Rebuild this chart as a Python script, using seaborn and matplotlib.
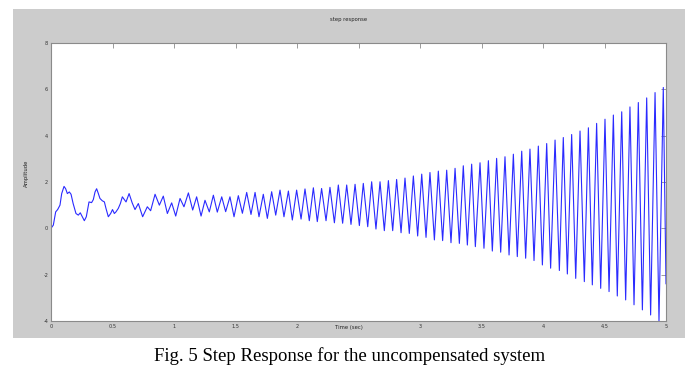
import matplotlib
matplotlib.use("Agg")
import matplotlib.pyplot as plt
from matplotlib.patches import Rectangle
import seaborn as sns
import pandas as pd

# ---- data ----
time_s = [
    0.0, 0.019, 0.038, 0.054, 0.073, 0.087, 0.106, 0.119, 0.133, 0.149, 0.163, 0.18,
    0.203, 0.222, 0.238, 0.255, 0.271, 0.287, 0.309, 0.33, 0.344, 0.358, 0.371, 0.385,
    0.398, 0.417, 0.434, 0.447, 0.466, 0.485, 0.5, 0.515, 0.528, 0.547, 0.564, 0.58,
    0.596, 0.61, 0.635, 0.66, 0.683,
    0.71, 0.745, 0.783, 0.81, 0.846, 0.881, 0.913, 0.946, 0.981, 1.014, 1.049, 1.081,
    1.117, 1.152, 1.184, 1.22, 1.252, 1.287, 1.32, 1.352, 1.388, 1.42, 1.455, 1.488,
    1.523, 1.556, 1.591, 1.626, 1.659, 1.691, 1.726, 1.759, 1.794, 1.827, 1.862, 1.894,
    1.93, 1.962, 1.997, 2.033, 2.065, 2.1, 2.133, 2.165, 2.2, 2.236, 2.268, 2.304,
    2.336, 2.371, 2.404, 2.439, 2.472, 2.507, 2.539, 2.575, 2.607, 2.642, 2.675, 2.71,
    2.743, 2.778, 2.81, 2.846, 2.878, 2.913, 2.946, 2.981, 3.014, 3.049, 3.081, 3.117,
    3.149, 3.184, 3.217, 3.252, 3.285, 3.32, 3.352, 3.385, 3.42, 3.45, 3.488, 3.52,
    3.556, 3.588, 3.623, 3.656, 3.691, 3.724, 3.759, 3.791, 3.827, 3.859, 3.894, 3.927,
    3.962, 3.995, 4.03, 4.062, 4.098, 4.133, 4.165, 4.198, 4.233, 4.266, 4.301, 4.336,
    4.369, 4.401, 4.436, 4.469, 4.504, 4.537, 4.572, 4.604, 4.64, 4.672, 4.707, 4.74,
    4.775, 4.808, 4.843, 4.875, 4.911, 4.943, 4.978, 5.0,
]
amplitude = [
    0.0, 0.14, 0.71, 0.81, 1.0, 1.5, 1.81, 1.71, 1.5, 1.57, 1.47, 1.07,
    0.64, 0.57, 0.67, 0.5, 0.33, 0.5, 1.14, 1.11, 1.24, 1.57, 1.71, 1.5,
    1.29, 1.19, 1.14, 0.86, 0.5, 0.64, 0.81, 0.64, 0.71, 0.86, 1.07, 1.36,
    1.24, 1.14, 1.5, 1.1, 0.81,
    1.07, 0.5, 0.93, 0.76, 1.47, 1.0, 1.39, 0.64, 1.1, 0.53, 1.29, 0.93,
    1.53, 0.79, 1.36, 0.53, 1.21, 0.71, 1.43, 0.7, 1.36, 0.72, 1.36, 0.5,
    1.41, 0.65, 1.55, 0.6, 1.55, 0.5, 1.47, 0.43, 1.58, 0.57, 1.65, 0.5,
    1.61, 0.36, 1.65, 0.4, 1.7, 0.33, 1.75, 0.29, 1.72, 0.33, 1.77, 0.24,
    1.87, 0.22, 1.87, 0.17, 1.9, 0.12, 1.94, 0.07, 2.01, -0.03, 2.01, -0.1,
    2.06, -0.1, 2.11, -0.19, 2.17, -0.22, 2.26, -0.33, 2.34, -0.39, 2.41, -0.5,
    2.47, -0.53, 2.51, -0.62, 2.59, -0.65, 2.7, -0.72, 2.77, -0.79, 2.83, -0.86,
    2.92, -0.98, 3.02, -1.03, 3.09, -1.15, 3.2, -1.22, 3.33, -1.29, 3.42, -1.39,
    3.55, -1.58, 3.66, -1.72, 3.81, -1.82, 3.92, -1.97, 4.05, -2.16, 4.2, -2.3,
    4.34, -2.44, 4.53, -2.59, 4.71, -2.73, 4.89, -2.92, 5.03, -3.09, 5.24, -3.3,
    5.43, -3.52, 5.63, -3.74, 5.86, -4.02, 6.08, -2.4,
]
x_ticks = [0, 0.5, 1, 1.5, 2, 2.5, 3, 3.5, 4, 4.5, 5]
# the 2.5 label is hidden behind the axis title in the reference
x_tick_labels = ["0", "0.5", "1", "1.5", "2", "", "3", "3.5", "4", "4.5", "5"]
y_ticks = [-4, -2, 0, 2, 4, 6, 8]
y_tick_labels = ["-4", "-2", "0", "2", "4", "6", "8"]

df = pd.DataFrame({"Time (sec)": time_s, "Amplitude": amplitude})

sns.set_theme(style="white")
plt.rcParams["font.family"] = ["DejaVu Sans"]

W, H = 698, 380
fig = plt.figure(figsize=(W / 100, H / 100), dpi=100)
fig.patch.set_facecolor("white")

# grey MATLAB figure panel (behind the axes)
panel = Rectangle((13 / W, 1 - 338 / H), (685 - 13) / W, (338 - 9) / H,
                  transform=fig.transFigure, facecolor="#cccccc",
                  edgecolor="none", zorder=-10)
fig.add_artist(panel)

ax_l, ax_r, ax_t, ax_b = 51, 666, 43, 321
ax = fig.add_axes([ax_l / W, 1 - ax_b / H, (ax_r - ax_l) / W, (ax_b - ax_t) / H])
ax.set_zorder(5)
ax.set_facecolor("white")

sns.lineplot(data=df, x="Time (sec)", y="Amplitude", sort=False, estimator=None,
             color="#2a2aff", linewidth=0.8, ax=ax)

ax.set_xlim(0, 5)
ax.set_ylim(-4, 8)
ax.set_xticks(x_ticks)
ax.set_xticklabels(x_tick_labels)
ax.set_yticks(y_ticks)
ax.set_yticklabels(y_tick_labels)

for s in ax.spines.values():
    s.set_visible(True)
    s.set_color("#8a8a8a")
    s.set_linewidth(0.8)

ax.tick_params(axis="both", which="major", direction="in", length=3.5, width=0.6,
               color="#8a8a8a", labelsize=3.6, labelcolor="#333333",
               top=True, right=True, pad=2)

ax.set_xlabel("Time (sec)", fontsize=3.8, color="#222222")
ax.xaxis.set_label_coords((349 - ax_l) / (ax_r - ax_l), -(327 - ax_b) / (ax_b - ax_t))
ax.xaxis.label.set_va("center")
ax.set_ylabel("Amplitude", fontsize=3.8, color="#222222")
ax.yaxis.set_label_coords((26 - ax_l) / (ax_r - ax_l), (ax_b - 173) / (ax_b - ax_t))
ax.yaxis.label.set_va("center")

ax.text((349 - ax_l) / (ax_r - ax_l), (ax_b - 20) / (ax_b - ax_t), "step response",
        transform=ax.transAxes, ha="center", va="center", fontsize=3.8, color="#222222")

fig.text(350 / W, 1 - 356 / H, "Fig. 5 Step Response for the uncompensated system",
         ha="center", va="center", fontsize=13.5, family=["Liberation Serif"], color="black")

fig.savefig("out.png", dpi=100)
